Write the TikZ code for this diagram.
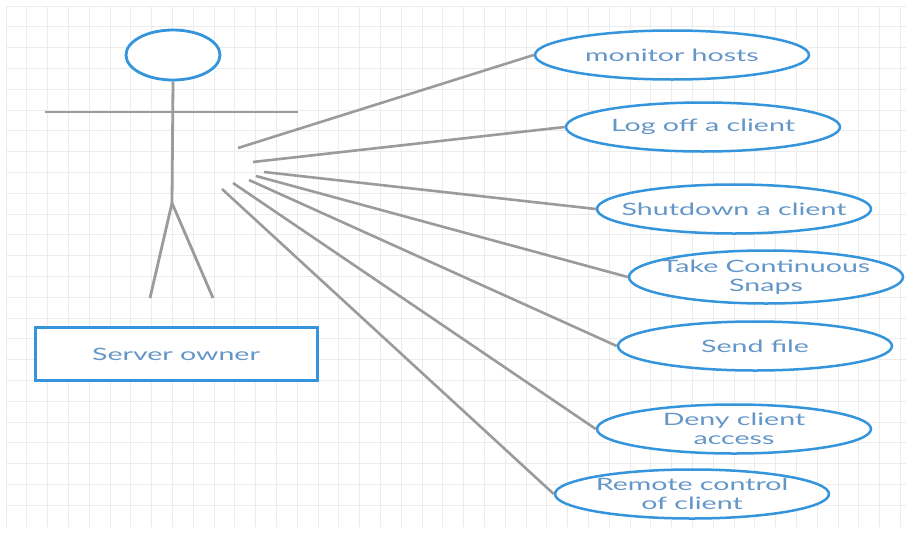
\documentclass[tikz,border=0pt]{standalone}
\usepackage{fontspec}
\setmainfont{Lato}[FakeStretch=1.68]
\usetikzlibrary{shapes.geometric}
\definecolor{ucblue}{RGB}{52,148,220}
\definecolor{uctext}{RGB}{100,150,200}
\definecolor{linkgray}{RGB}{155,155,155}
\definecolor{gridgray}{RGB}{236,236,236}

\tikzset{
  usecase/.style={ellipse,draw=ucblue,line width=2.5pt,fill=white,minimum width=274pt,minimum height=49pt,inner xsep=-40pt,inner ysep=-5pt,align=center,text=uctext,font=\fontsize{17}{19}\selectfont},
  link/.style={draw=linkgray,line width=2.6pt},
  limb/.style={draw=linkgray,line width=2.8pt},
}

\begin{document}
\begin{tikzpicture}[x=1pt,y=-1pt]
\useasboundingbox (0,0) rectangle (913,533);
\fill[white] (0,0) rectangle (913,533);
% background grid
\foreach \gx in {0,...,43} \draw[gridgray,line width=0.8pt] ({6+20.8*\gx},6) -- ({6+20.8*\gx},527);
\foreach \gy in {0,...,24} \draw[gridgray,line width=0.8pt] (6,{6+20.8*\gy}) -- (906,{6+20.8*\gy});

% actor
\node[ellipse,draw=ucblue,line width=2.8pt,fill=white,minimum width=94pt,minimum height=50pt,inner sep=0pt] (head) at (173,55) {};
\coordinate (hip) at (172,203);
\coordinate (lhand) at (45,112); \coordinate (rhand) at (298,112);
\coordinate (lfoot) at (150,298); \coordinate (rfoot) at (213,298);
\draw[limb] (head.south) -- (hip);
\draw[limb] (lhand) -- (rhand);
\draw[limb] (lfoot) -- (hip) -- (rfoot);
\node[draw=ucblue,line width=3pt,fill=white,minimum width=282pt,minimum height=53pt,text=uctext,font=\fontsize{17}{19}\selectfont] (owner) at (176,354) {Server owner};

% use cases
\node[usecase] (uc1) at (672,55) {monitor hosts};
\node[usecase] (uc2) at (703,127) {Log off a client};
\node[usecase] (uc3) at (734,209) {Shutdown a client};
\node[usecase,minimum height=53pt] (uc4) at (766,277) {Take Continuous\\Snaps};
\node[usecase] (uc5) at (755,346) {Send file};
\node[usecase] (uc6) at (734,429) {Deny client\\access};
\node[usecase] (uc7) at (692,494) {Remote control\\of client};

% associations
\coordinate (s1) at (238,148); \coordinate (s2) at (253,162);
\coordinate (s3) at (264,172); \coordinate (s4) at (256,176);
\coordinate (s5) at (249,180); \coordinate (s6) at (233,183);
\coordinate (s7) at (222,189);
\foreach \s/\u in {s1/uc1,s2/uc2,s3/uc3,s4/uc4,s5/uc5,s6/uc6,s7/uc7}
  \draw[link] (\s) -- (\u.west);
\end{tikzpicture}
\end{document}
